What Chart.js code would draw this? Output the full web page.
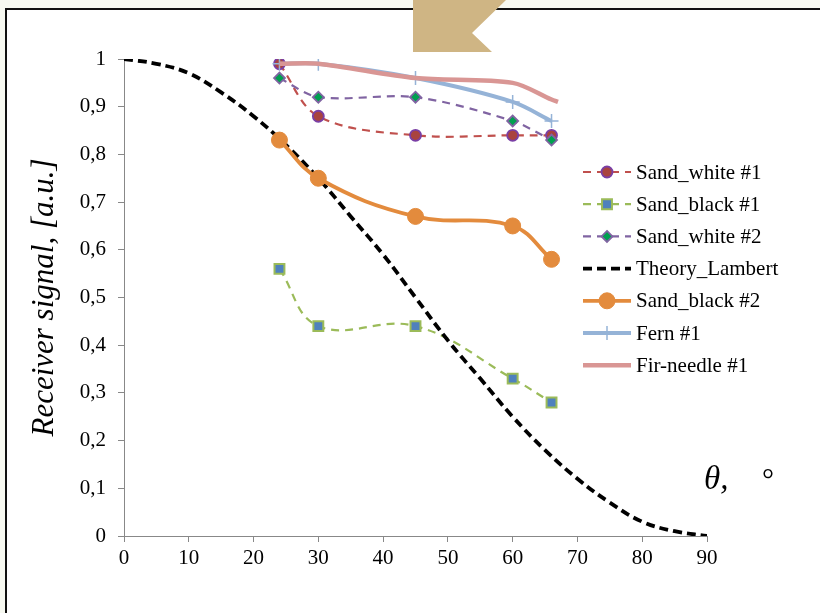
<!DOCTYPE html>
<html>
<head>
<meta charset="utf-8">
<script src="https://cdn.jsdelivr.net/npm/chart.js@4.4.0/dist/chart.umd.min.js"></script>
<style>
  html, body { margin: 0; padding: 0; background: #f7f9f1; width: 820px; height: 613px; overflow: hidden; }
  #frame { position: absolute; left: 5px; top: 8px; width: 900px; height: 700px; background: #fff; border: 2px solid #111; }
  #wrap { position: absolute; left: 0; top: 0; width: 820px; height: 613px; }
  #tab { position: absolute; left: 413px; top: 0; width: 95px; height: 52px; background: #cfb584;
         clip-path: polygon(0 0, 93px 0, 59px 33px, 79px 52px, 0 52px); }
  #theta { position: absolute; left: 704px; top: 460px; font: italic 33px "Liberation Serif", serif; color: #000; }
  #deg { position: absolute; left: 762px; top: 462px; font: 30px "Liberation Serif", serif; color: #000; }
</style>
</head>
<body>
<div id="frame"></div>
<div id="wrap"><canvas id="chart" width="820" height="613"></canvas></div>
<div id="tab"></div>
<div id="theta">θ,</div>
<div id="deg">°</div>
<script>
// angles (deg) and receiver signal values
const angles = [24, 30, 45, 60, 66];
const sandWhite1 = [0.99, 0.88, 0.84, 0.84, 0.84];
const sandBlack1 = [0.56, 0.44, 0.44, 0.33, 0.28];
const sandWhite2 = [0.96, 0.92, 0.92, 0.87, 0.83];
const sandBlack2 = [0.83, 0.75, 0.67, 0.65, 0.58];
const fern1 = [0.99, 0.99, 0.96, 0.91, 0.87];
const firAngles = [24, 30, 45, 60, 66, 67];
const firNeedle1 = [0.99, 0.99, 0.96, 0.95, 0.915, 0.91];
const lambertAngles = [0, 5, 10, 15, 20, 25, 30, 35, 40, 45, 50, 55, 60, 65, 70, 75, 80, 85, 90];
const lambert = [1, 0.99, 0.97, 0.93, 0.88, 0.82, 0.75, 0.67, 0.59, 0.5, 0.41, 0.33, 0.25, 0.18, 0.12, 0.07, 0.03, 0.01, 0];
const xTicks = [0, 10, 20, 30, 40, 50, 60, 70, 80, 90];

const pts = (xs, ys) => xs.map((x, i) => ({ x: x, y: ys[i] }));
const serif = '"Liberation Serif", "Times New Roman", serif';

const datasets = [
  { label: 'Sand_white #1', data: pts(angles, sandWhite1), borderColor: '#c0504d', borderWidth: 2.2, borderDash: [8, 6],
    pointStyle: 'circle', pointRadius: 5.5, pointBackgroundColor: '#a9433f', pointBorderColor: '#7a3fa5', pointBorderWidth: 1.8, tension: 0.35, order: 7 },
  { label: 'Sand_black #1', data: pts(angles, sandBlack1), borderColor: '#9bbb59', borderWidth: 2.2, borderDash: [8, 6],
    pointStyle: 'rect', pointRadius: 7, pointBackgroundColor: '#4f81bd', pointBorderColor: '#9bbb59', pointBorderWidth: 2, tension: 0.4, order: 6 },
  { label: 'Sand_white #2', data: pts(angles, sandWhite2), borderColor: '#8064a2', borderWidth: 2.2, borderDash: [8, 6],
    pointStyle: 'rectRot', pointRadius: 5.5, pointBackgroundColor: '#00a050', pointBorderColor: '#8064a2', pointBorderWidth: 1.8, tension: 0.3, order: 5 },
  { label: 'Theory_Lambert', data: pts(lambertAngles, lambert), borderColor: '#000', borderWidth: 3.8, borderDash: [9, 5],
    pointRadius: 0, tension: 0.4, order: 4 },
  { label: 'Sand_black #2', data: pts(angles, sandBlack2), borderColor: '#e38b3d', borderWidth: 3.8,
    pointStyle: 'circle', pointRadius: 8, pointBackgroundColor: '#e38b3d', pointBorderColor: '#e38b3d', pointBorderWidth: 1, tension: 0.4, order: 3 },
  { label: 'Fern #1', data: pts(angles, fern1), borderColor: '#95b3d7', borderWidth: 4,
    pointStyle: 'cross', pointRadius: 7, pointBorderColor: '#95b3d7', pointBorderWidth: 1.5, tension: 0.3, order: 2 },
  { label: 'Fir-needle #1', data: pts(firAngles, firNeedle1), borderColor: '#d99694', borderWidth: 4.5,
    pointRadius: 0, tension: 0.3, order: 1 }
];

function drawMarker(ctx, ds, x, y) {
  const r = ds.pointRadius || 0;
  if (!r) return;
  ctx.save();
  ctx.setLineDash([]);
  ctx.fillStyle = ds.pointBackgroundColor || ds.borderColor;
  ctx.strokeStyle = ds.pointBorderColor || ds.borderColor;
  ctx.lineWidth = ds.pointBorderWidth || 1;
  ctx.beginPath();
  if (ds.pointStyle === 'rect') {
    const s = r * Math.SQRT1_2;
    ctx.rect(x - s, y - s, s * 2, s * 2);
  } else if (ds.pointStyle === 'rectRot') {
    ctx.moveTo(x, y - r); ctx.lineTo(x + r, y); ctx.lineTo(x, y + r); ctx.lineTo(x - r, y); ctx.closePath();
  } else if (ds.pointStyle === 'cross') {
    ctx.moveTo(x, y - r); ctx.lineTo(x, y + r);
    ctx.stroke(); ctx.restore(); return;
  } else {
    ctx.arc(x, y, r, 0, Math.PI * 2);
  }
  ctx.fill(); ctx.stroke();
  ctx.restore();
}

// legend drawn inside the plot, right side
const legendPlugin = {
  id: 'insideLegend',
  afterDraw(chart) {
    const ctx = chart.ctx;
    const x0 = 583, x1 = 631, tx = 636, y0 = 172, dy = 32.2;
    chart.data.datasets.forEach((ds, i) => {
      const y = y0 + i * dy;
      ctx.save();
      ctx.strokeStyle = ds.borderColor;
      ctx.lineWidth = ds.borderWidth;
      ctx.setLineDash(ds.borderDash || []);
      ctx.beginPath(); ctx.moveTo(x0, y); ctx.lineTo(x1, y); ctx.stroke();
      ctx.restore();
      drawMarker(ctx, ds, (x0 + x1) / 2, y);
      ctx.save();
      ctx.fillStyle = '#000';
      ctx.font = '21px ' + serif;
      ctx.textBaseline = 'middle';
      ctx.fillText(ds.label, tx, y + 1);
      ctx.restore();
    });
  }
};

new Chart(document.getElementById('chart'), {
  type: 'line',
  data: { datasets: datasets },
  options: {
    responsive: false,
    devicePixelRatio: 1,
    animation: false,
    layout: { padding: { top: 59, right: 113, bottom: 0, left: 0 } },
    plugins: { legend: { display: false }, tooltip: { enabled: false } },
    scales: {
      x: {
        type: 'linear', min: 0, max: 90,
        afterFit: s => { s.height = 77; },
        afterBuildTicks: s => { s.ticks = xTicks.map(v => ({ value: v })); },
        grid: { drawOnChartArea: false, drawTicks: true, tickLength: 6, color: '#888' },
        border: { color: '#888', width: 1 },
        ticks: { color: '#000', font: { family: serif, size: 21 }, padding: 4, maxRotation: 0 }
      },
      y: {
        min: 0, max: 1,
        afterFit: s => { s.width = 124; },
        grid: { drawOnChartArea: false, drawTicks: true, tickLength: 6, color: '#888' },
        border: { color: '#888', width: 1 },
        ticks: {
          stepSize: 0.1, color: '#000', font: { family: serif, size: 21 }, padding: 12,
          callback: v => (Math.round(v * 10) / 10).toString().replace('.', ',')
        },
        title: {
          display: true, text: 'Receiver signal, [a.u.]', color: '#000',
          font: { family: serif, size: 31, style: 'italic' }, padding: { top: 26, bottom: 0 }
        }
      }
    }
  },
  plugins: [legendPlugin]
});
</script>
</body>
</html>
